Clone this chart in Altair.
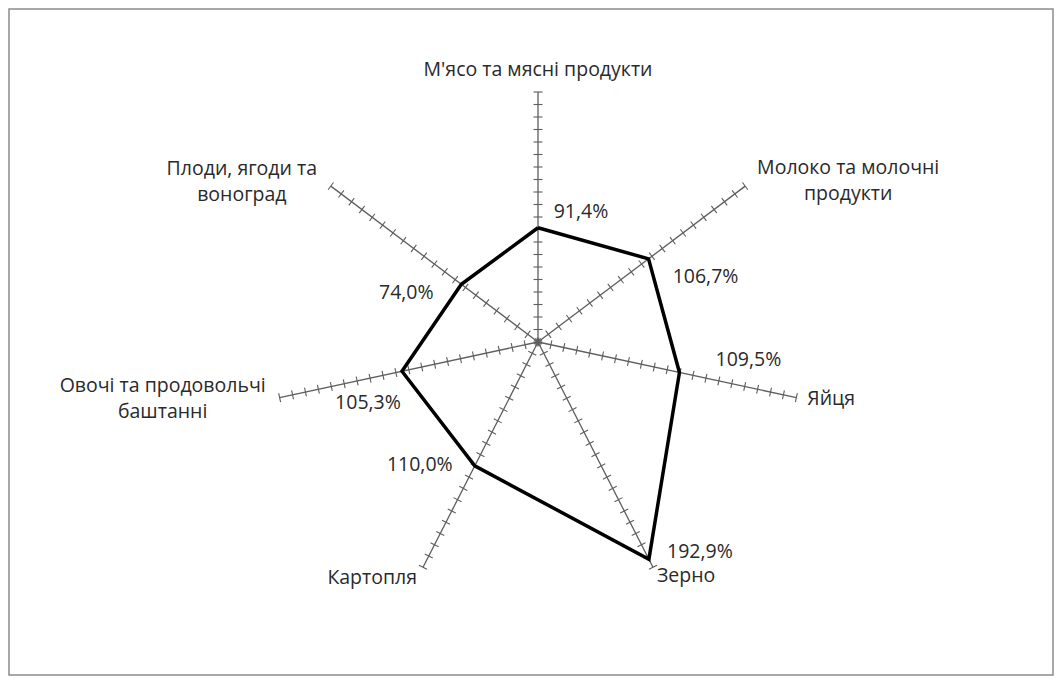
import math
import altair as alt
import pandas as pd

# ---- data ----
categories = [
    "М'ясо та мясні продукти",
    "Молоко та молочні\nпродукти",
    "Яйця",
    "Зерно",
    "Картопля",
    "Овочі та продовольчі\nбаштанні",
    "Плоди, ягоди та\nвоноград",
]
values = [91.4, 106.7, 109.5, 192.9, 110.0, 105.3, 74.0]
value_labels = ["91,4%", "106,7%", "109,5%", "192,9%", "110,0%", "105,3%", "74,0%"]
axis_max = 200
tick_step = 10

# ---- label placement (pixel offsets) ----
value_dx = [43, 57, 69, 51, -55, -34, -55]
value_dy = [-16, 18, -12, -7, -1, 32, 9]
cat_dx = [0, 103, 11, 4, -6, -117, -89]
cat_dy = [-22, -18, 1, 9, 11, -12, -17]
cat_align = ["center", "center", "left", "left", "right", "center", "center"]

W, H = 1044, 666
PX_X = 1.325  # pixels per unit along x
PX_Y = 1.25   # pixels per unit along y
CX, CY = 529, 333  # centre inside plot area (px)
x_dom = [-CX / PX_X, (W - CX) / PX_X]
y_dom = [-(H - CY) / PX_Y, CY / PX_Y]

n = len(categories)
ang = [2 * math.pi * i / n for i in range(n)]

# polygon
poly = pd.DataFrame({
    "order": list(range(n + 1)),
    "x": [values[i % n] * math.sin(ang[i % n]) for i in range(n + 1)],
    "y": [values[i % n] * math.cos(ang[i % n]) for i in range(n + 1)],
})

# axes
axes_df = pd.DataFrame({
    "x": [0.0] * n, "y": [0.0] * n,
    "x2": [axis_max * math.sin(a) for a in ang],
    "y2": [axis_max * math.cos(a) for a in ang],
})

# ticks (perpendicular, in pixel space)
half = 4.5
rows = []
for a in ang:
    ux, uy = PX_X * math.sin(a), PX_Y * math.cos(a)
    nrm = math.hypot(ux, uy)
    px, py = -uy / nrm * half, ux / nrm * half
    for r in range(0, axis_max + 1, tick_step):
        bx, by = r * math.sin(a), r * math.cos(a)
        rows.append({"x": bx - px / PX_X, "y": by - py / PX_Y,
                     "x2": bx + px / PX_X, "y2": by + py / PX_Y})
ticks_df = pd.DataFrame(rows)

xs = alt.Scale(domain=x_dom, nice=False, zero=False)
ys = alt.Scale(domain=y_dom, nice=False, zero=False)

GRAY = "#5e5e5e"
TXT = "#2a2a2a"
FONT = "Open Sans"
FS = 19.5

axes_layer = alt.Chart(axes_df).mark_rule(color=GRAY, strokeWidth=1.3).encode(
    x=alt.X("x:Q", scale=xs, axis=None), y=alt.Y("y:Q", scale=ys, axis=None),
    x2="x2:Q", y2="y2:Q")
ticks_layer = alt.Chart(ticks_df).mark_rule(color=GRAY, strokeWidth=1.1).encode(
    x=alt.X("x:Q", scale=xs, axis=None), y=alt.Y("y:Q", scale=ys, axis=None),
    x2="x2:Q", y2="y2:Q")
poly_layer = alt.Chart(poly).mark_line(color="black", strokeWidth=3.5, strokeJoin="miter").encode(
    x=alt.X("x:Q", scale=xs, axis=None), y=alt.Y("y:Q", scale=ys, axis=None),
    order="order:Q")

layers = [axes_layer, ticks_layer, poly_layer]
for i in range(n):
    vdf = pd.DataFrame({"x": [values[i] * math.sin(ang[i])],
                        "y": [values[i] * math.cos(ang[i])],
                        "t": [value_labels[i]]})
    layers.append(alt.Chart(vdf).mark_text(
        font=FONT, fontSize=FS, color=TXT, dx=value_dx[i], dy=value_dy[i],
        align="center", baseline="middle").encode(
        x=alt.X("x:Q", scale=xs, axis=None), y=alt.Y("y:Q", scale=ys, axis=None), text="t:N"))
    cdf = pd.DataFrame({"x": [axis_max * math.sin(ang[i])],
                        "y": [axis_max * math.cos(ang[i])],
                        "t": [categories[i]]})
    layers.append(alt.Chart(cdf).mark_text(
        font=FONT, fontSize=FS, color=TXT, dx=cat_dx[i], dy=cat_dy[i],
        align=cat_align[i], baseline="middle", lineBreak="\n", lineHeight=26).encode(
        x=alt.X("x:Q", scale=xs, axis=None), y=alt.Y("y:Q", scale=ys, axis=None), text="t:N"))

chart = alt.layer(*layers).properties(
    width=W, height=H, padding=1, autosize="none", background="white"
).configure_view(stroke="#8c8c8c", strokeWidth=1.5)

chart.save("out.html", embed_options={"renderer": "svg", "actions": False})
